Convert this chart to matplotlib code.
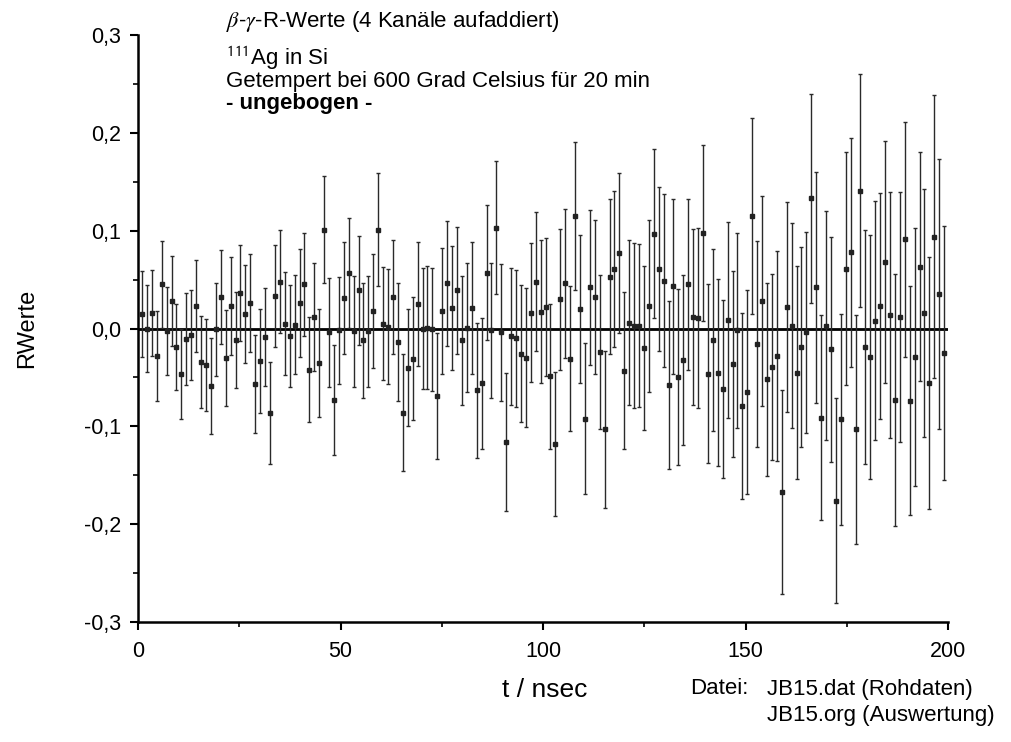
import numpy as np
import matplotlib
matplotlib.use("Agg")
import matplotlib.pyplot as plt
from matplotlib.ticker import MultipleLocator

# time channels: first channel at 1 ns, channel width ~1.215 ns
T_START = 1.0
T_STEP = 1.215

r_values = [
    0.015, 0.000, 0.016, -0.028, 0.045, -0.003, 0.028, -0.019, -0.047, -0.011,
    -0.007, 0.023, -0.034, -0.037, -0.059, -0.001, 0.032, -0.030, 0.023, -0.012,
    0.036, 0.015, 0.026, -0.057, -0.033, -0.009, -0.086, 0.033, 0.048, 0.005,
    -0.008, 0.004, 0.026, 0.045, -0.042, 0.012, -0.035, 0.101, -0.004, -0.073,
    -0.002, 0.031, 0.057, -0.003, 0.039, -0.012, -0.003, 0.018, 0.101, 0.005,
    0.002, 0.032, -0.014, -0.086, -0.040, -0.031, 0.025, 0.000, 0.001, -0.001,
    -0.069, 0.018, 0.046, 0.021, 0.039, -0.012, 0.001, 0.021, -0.063, -0.056,
    0.057, -0.002, 0.103, -0.004, -0.116, -0.008, -0.010, -0.026, -0.030, 0.016,
    0.048, 0.017, 0.022, -0.049, -0.118, 0.030, 0.046, -0.031, 0.115, 0.020,
    -0.092, 0.042, 0.032, -0.024, -0.103, 0.053, 0.061, 0.077, -0.043, 0.006,
    0.003, 0.003, -0.020, 0.023, 0.097, 0.061, 0.049, -0.058, 0.043, -0.050,
    -0.032, 0.045, 0.012, 0.011, 0.098, -0.046, -0.012, -0.045, -0.062, 0.009,
    -0.036, -0.002, -0.079, -0.065, 0.115, -0.016, 0.028, -0.052, -0.039, -0.028,
    -0.167, 0.022, 0.003, -0.045, -0.019, -0.004, 0.133, 0.042, -0.091, 0.003,
    -0.021, -0.176, -0.093, 0.061, 0.078, -0.103, 0.141, -0.019, -0.029, 0.008,
    0.023, 0.068, 0.014, -0.073, 0.012, 0.091, -0.074, -0.029, 0.063, 0.016,
    -0.056, 0.094, 0.035, -0.025,
]

r_errors = [
    0.044, 0.044, 0.044, 0.046, 0.044, 0.045, 0.046, 0.044, 0.046, 0.047,
    0.046, 0.047, 0.047, 0.047, 0.049, 0.048, 0.048, 0.049, 0.050, 0.049,
    0.049, 0.050, 0.050, 0.050, 0.053, 0.050, 0.052, 0.052, 0.053, 0.053,
    0.052, 0.051, 0.055, 0.053, 0.054, 0.055, 0.055, 0.055, 0.056, 0.056,
    0.055, 0.057, 0.056, 0.057, 0.056, 0.059, 0.057, 0.058, 0.058, 0.058,
    0.059, 0.058, 0.060, 0.060, 0.060, 0.063, 0.063, 0.062, 0.063, 0.063,
    0.064, 0.064, 0.064, 0.063, 0.065, 0.066, 0.066, 0.067, 0.069, 0.067,
    0.069, 0.069, 0.068, 0.070, 0.071, 0.070, 0.070, 0.070, 0.071, 0.071,
    0.071, 0.073, 0.071, 0.074, 0.074, 0.072, 0.076, 0.074, 0.076, 0.076,
    0.077, 0.079, 0.079, 0.079, 0.080, 0.079, 0.080, 0.082, 0.080, 0.084,
    0.084, 0.083, 0.084, 0.088, 0.086, 0.084, 0.088, 0.086, 0.089, 0.090,
    0.087, 0.087, 0.090, 0.092, 0.090, 0.091, 0.093, 0.096, 0.091, 0.100,
    0.095, 0.100, 0.095, 0.104, 0.100, 0.105, 0.107, 0.099, 0.095, 0.107,
    0.104, 0.107, 0.105, 0.109, 0.102, 0.103, 0.107, 0.118, 0.105, 0.117,
    0.115, 0.105, 0.108, 0.119, 0.117, 0.117, 0.119, 0.120, 0.125, 0.122,
    0.116, 0.124, 0.126, 0.129, 0.128, 0.120, 0.117, 0.132, 0.117, 0.127,
    0.129, 0.145, 0.138, 0.130,
]

x_ticks = [0, 50, 100, 150, 200]
y_ticks = [-0.3, -0.2, -0.1, 0.0, 0.1, 0.2, 0.3]
y_tick_labels = ["-0,3", "-0,2", "-0,1", "0,0", "0,1", "0,2", "0,3"]

header_lines = [
    r"$\beta$-$\gamma$-R-Werte (4 Kanäle aufaddiert)",
    r"$^{\mathsf{111}}$Ag in Si",
    "Getempert bei 600 Grad Celsius für 20 min",
]
header_bold = "- ungebogen -"
file_lines = ["JB15.dat (Rohdaten)", "JB15.org (Auswertung)"]

plt.rcParams["font.family"] = ["Liberation Sans", "DejaVu Sans"]
plt.rcParams["mathtext.fontset"] = "stix"

W, H = 1011, 742
fig = plt.figure(figsize=(W / 100, H / 100), dpi=100)
ax = fig.add_axes([138 / W, 1 - 622 / H, 810 / W, 587 / H])

t = T_START + T_STEP * np.arange(len(r_values))
ax.axhline(0, color="black", lw=2.0, zorder=1)
ax.errorbar(t, r_values, yerr=r_errors, fmt="s", color="#2a2a2a", ms=2.8,
            mfc="#222222", mec="#222222", elinewidth=1.0, capsize=1.6,
            capthick=1.0, zorder=2)

ax.set_xlim(0, 200)
ax.set_ylim(-0.3, 0.3)
ax.set_xticks(x_ticks)
ax.set_yticks(y_ticks)
ax.set_yticklabels(y_tick_labels)
ax.xaxis.set_minor_locator(MultipleLocator(25))
ax.yaxis.set_minor_locator(MultipleLocator(0.05))
ax.tick_params(which="major", direction="out", length=6, width=1.5,
               labelsize=15.5)
ax.tick_params(axis="x", which="major", pad=8)
ax.tick_params(axis="y", which="major", pad=6)
ax.tick_params(which="minor", direction="out", length=3.5, width=1.2)
for side in ("top", "right"):
    ax.spines[side].set_visible(False)
for side in ("left", "bottom"):
    ax.spines[side].set_linewidth(1.8)

fig.text(545 / W, 1 - 690 / H, "t / nsec", ha="center", va="center",
         fontsize=19)
fig.text(27 / W, 1 - 328 / H, "RWerte", ha="center", va="center",
         rotation=90, fontsize=17)

for line, yc in zip(header_lines, [22, 58, 81]):
    fig.text(226 / W, 1 - yc / H, line, ha="left", va="center", fontsize=16)
fig.text(226 / W, 1 - 103 / H, header_bold, ha="left", va="center",
         fontsize=16, fontweight="bold")

fig.text(690 / W, 1 - 689 / H, "Datei:", ha="left", va="center", fontsize=16)
for line, yc in zip(file_lines, [689, 715]):
    fig.text(767 / W, 1 - yc / H, line, ha="left", va="center", fontsize=16)

fig.savefig("out.png", dpi=100)
